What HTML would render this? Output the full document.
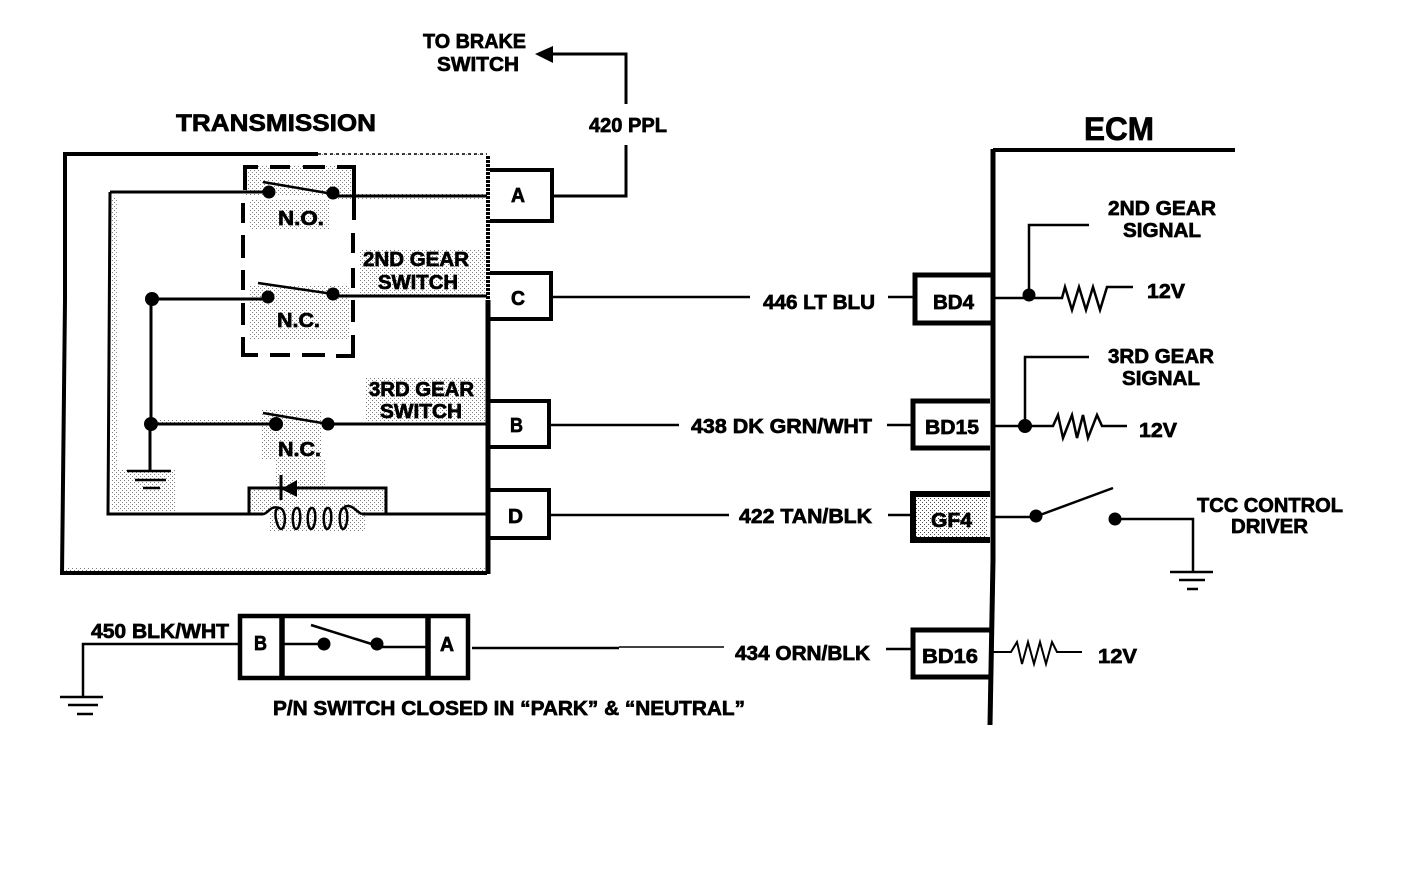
<!DOCTYPE html>
<html><head><meta charset="utf-8"><style>
html,body{margin:0;padding:0;background:#fff}
svg{display:block}
text{font-family:"Liberation Sans",sans-serif;font-weight:bold;fill:#000;stroke:#000;stroke-width:.7}
</style></head><body>
<svg width="1408" height="886" viewBox="0 0 1408 886" xmlns="http://www.w3.org/2000/svg">
<defs><pattern id="d" width="4" height="4" patternUnits="userSpaceOnUse"><rect width="1" height="1" fill="#000"/><rect x="2" y="2" width="1" height="1" fill="#000"/></pattern></defs>
<rect width="1408" height="886" fill="#fff"/>
<g fill="url(#d)" opacity=".5">
<rect x="245" y="165" width="110" height="30"/><rect x="250" y="200" width="80" height="30"/><rect x="360" y="250" width="125" height="45"/><rect x="250" y="285" width="100" height="55"/>
<rect x="365" y="378" width="120" height="44"/><rect x="150" y="420" width="130" height="5"/><rect x="262" y="410" width="60" height="50"/><rect x="275" y="460" width="50" height="30"/>
<rect x="250" y="490" width="135" height="22"/><rect x="270" y="512" width="95" height="20"/><rect x="115" y="470" width="60" height="42"/><rect x="112" y="198" width="5" height="312"/>
<rect x="66" y="568" width="420" height="4"/><rect x="320" y="153" width="165" height="3"/><rect x="338" y="194" width="148" height="6"/>
</g>
<g fill="none" stroke="#000" stroke-linecap="butt">
<!-- transmission outline -->
<path d="M64 154H318" stroke-width="4"/>
<path d="M318 154H487" stroke-width="1.5" stroke-dasharray="3 3"/>
<path d="M60 573H487" stroke-width="4"/>
<path d="M65 152V300L62 575" stroke-width="4"/>
<path d="M488 156V300" stroke-width="4" stroke-dasharray="3 1"/>
<path d="M488 300V574" stroke-width="5"/>
<!-- dashed relay -->
<path d="M245 190V167H258M270 167H290M303 167H325M337 167H354V220" stroke-width="4"/>
<path d="M353 233V253M353 268V288M353 300V322M353 335V356H336M325 355H302M290 355H270M258 355H243V337M243 325V303M243 290V270M243 258V235M243 223V203" stroke-width="4"/>
<!-- wires -->
<path d="M110 192H268M333 196H487M110 192L108 514H263M362 514H487M249 514V488H386V514" stroke-width="3"/>
<path d="M152 299H268M333 296H487M151 299V424M151 424H275M328 424H487M150 424V471" stroke-width="3"/>
<path d="M127 471H171M135 480H166M143 488H160" stroke-width="2.5"/>
<path d="M263 182L333 194M258 283L333 294M263 413L328 424" stroke-width="2.5"/>
<path d="M279 508C272 508 277 529 281 529C286 529 287 508 279 508ZM297 508C291 508 292 529 296 529C301 529 302 508 297 508ZM312 508C306 508 307 529 311 529C316 529 317 508 312 508ZM328 508C322 508 323 529 327 529C332 529 333 508 328 508ZM344 508C338 508 339 529 343 529C348 529 349 508 344 508ZM344 507C352 503 356 512 362 514M263 514C268 514 270 505 279 508" stroke-width="2.5"/>
<path d="M281 475V500" stroke-width="3"/>
<!-- connectors -->
<path d="M490 170H552V221H490M490 273H551V319H490M488 401H549V447H488M487 490H549V538H487" stroke-width="4"/>
<path d="M552 196H626V145M626 104V54H552" stroke-width="3"/>
<path d="M551 297H750M549 425H679M549 515H729" stroke-width="2.5"/>
<!-- ECM -->
<path d="M993 150H1235" stroke-width="4"/>
<path d="M993 149V560L990 725" stroke-width="5"/>
<path d="M991 275H915V323H991M990 401H913V448H990" stroke-width="5"/>
<path d="M990 494H913V540H990" stroke-width="6"/>
<path d="M990 630H913V677H990" stroke-width="5"/>
<path d="M888 297H915M887 425H913M888 515H913M886 649H913" stroke-width="2.5"/>
<!-- right circuits -->
<path d="M995 298H1062L1065 287L1072 310L1079 287L1086 310L1093 287L1100 310L1107 287H1133M1029 298V225H1089" stroke-width="2.5"/>
<path d="M995 426H1053L1058 415L1063 438L1072 415L1077 438L1083 415L1088 438L1097 415L1102 426H1127M1025 426V357H1089" stroke-width="2.5"/>
<path d="M992 517H1036M1040 515L1113 488M1115 519H1193V572M1170 572H1213M1179 580H1205M1187 589H1198" stroke-width="2.5"/>
<path d="M992 652H1011L1017 642L1022 664L1028 642L1034 664L1040 642L1046 664L1052 642L1057 652H1082" stroke-width="2"/>
<!-- p/n -->
<path d="M240 616H468V678H240Z" stroke-width="4.5"/>
<path d="M282 616V678M428 616V678" stroke-width="5.5"/>
<path d="M283 644H323M378 647H428M311 625L378 646" stroke-width="2.5"/>
<path d="M241 644H83V697M60 697H103M68 705H98M77 714H93" stroke-width="2.5"/>
<path d="M472 648H619" stroke-width="2.5"/>
<path d="M619 647H724" stroke-width="1.5"/>
</g>
<path d="M535 54L553 46V63Z" fill="#000"/>
<path d="M281 489L297 480V497Z" fill="#000"/>
<g fill="#000">
<circle cx="269" cy="192" r="6.5"/><circle cx="333" cy="193" r="6.5"/><circle cx="268" cy="297" r="6.5"/><circle cx="333" cy="294" r="6.5"/>
<circle cx="152" cy="299" r="7"/><circle cx="151" cy="424" r="7"/><circle cx="276" cy="424" r="7"/><circle cx="328" cy="424" r="6.5"/>
<circle cx="1029" cy="295" r="6.5"/><circle cx="1025" cy="426" r="7"/><circle cx="1036" cy="516" r="6.5"/><circle cx="1115" cy="519" r="6.5"/>
<circle cx="324" cy="644" r="6.5"/><circle cx="377" cy="644" r="6.5"/>
</g>
<rect x="916" y="497" width="72" height="41" fill="url(#d)" opacity=".7"/>
<g font-size="20">
<text x="423" y="48" lengthAdjust="spacingAndGlyphs" textLength="103">TO BRAKE</text>
<text x="437" y="71" lengthAdjust="spacingAndGlyphs" textLength="82">SWITCH</text>
<text x="176" y="131" font-size="24" lengthAdjust="spacingAndGlyphs" textLength="200">TRANSMISSION</text>
<text x="589" y="132" lengthAdjust="spacingAndGlyphs" textLength="78">420 PPL</text>
<text x="1084" y="140" font-size="32" lengthAdjust="spacingAndGlyphs" textLength="70">ECM</text>
<text x="511" y="202" lengthAdjust="spacingAndGlyphs" textLength="14">A</text>
<text x="511" y="305" lengthAdjust="spacingAndGlyphs" textLength="14">C</text>
<text x="510" y="432" lengthAdjust="spacingAndGlyphs" textLength="13">B</text>
<text x="508" y="523" lengthAdjust="spacingAndGlyphs" textLength="15">D</text>
<text x="278" y="225" lengthAdjust="spacingAndGlyphs" textLength="46">N.O.</text>
<text x="277" y="327" lengthAdjust="spacingAndGlyphs" textLength="43">N.C.</text>
<text x="278" y="456" lengthAdjust="spacingAndGlyphs" textLength="43">N.C.</text>
<text x="363" y="266" lengthAdjust="spacingAndGlyphs" textLength="106">2ND GEAR</text>
<text x="378" y="289" lengthAdjust="spacingAndGlyphs" textLength="80">SWITCH</text>
<text x="369" y="396" lengthAdjust="spacingAndGlyphs" textLength="105">3RD GEAR</text>
<text x="380" y="418" lengthAdjust="spacingAndGlyphs" textLength="82">SWITCH</text>
<text x="763" y="309" lengthAdjust="spacingAndGlyphs" textLength="112">446 LT BLU</text>
<text x="691" y="433" lengthAdjust="spacingAndGlyphs" textLength="181">438 DK GRN/WHT</text>
<text x="739" y="523" lengthAdjust="spacingAndGlyphs" textLength="133">422 TAN/BLK</text>
<text x="735" y="660" lengthAdjust="spacingAndGlyphs" textLength="135">434 ORN/BLK</text>
<text x="91" y="638" lengthAdjust="spacingAndGlyphs" textLength="138">450 BLK/WHT</text>
<text x="254" y="650" lengthAdjust="spacingAndGlyphs" textLength="13">B</text>
<text x="440" y="651" lengthAdjust="spacingAndGlyphs" textLength="14">A</text>
<text x="273" y="715" lengthAdjust="spacingAndGlyphs" textLength="472">P/N SWITCH CLOSED IN “PARK” &amp; “NEUTRAL”</text>
<text x="933" y="309" lengthAdjust="spacingAndGlyphs" textLength="41">BD4</text>
<text x="925" y="434" lengthAdjust="spacingAndGlyphs" textLength="54">BD15</text>
<text x="931" y="527" lengthAdjust="spacingAndGlyphs" textLength="41">GF4</text>
<text x="922" y="663" lengthAdjust="spacingAndGlyphs" textLength="56">BD16</text>
<text x="1108" y="215" lengthAdjust="spacingAndGlyphs" textLength="108">2ND GEAR</text>
<text x="1123" y="237" lengthAdjust="spacingAndGlyphs" textLength="78">SIGNAL</text>
<text x="1108" y="363" lengthAdjust="spacingAndGlyphs" textLength="106">3RD GEAR</text>
<text x="1122" y="385" lengthAdjust="spacingAndGlyphs" textLength="78">SIGNAL</text>
<text x="1147" y="298" lengthAdjust="spacingAndGlyphs" textLength="38">12V</text>
<text x="1139" y="437" lengthAdjust="spacingAndGlyphs" textLength="38">12V</text>
<text x="1098" y="663" lengthAdjust="spacingAndGlyphs" textLength="39">12V</text>
<text x="1197" y="512" lengthAdjust="spacingAndGlyphs" textLength="146">TCC CONTROL</text>
<text x="1231" y="533" lengthAdjust="spacingAndGlyphs" textLength="77">DRIVER</text>
</g>
</svg>
</body></html>
